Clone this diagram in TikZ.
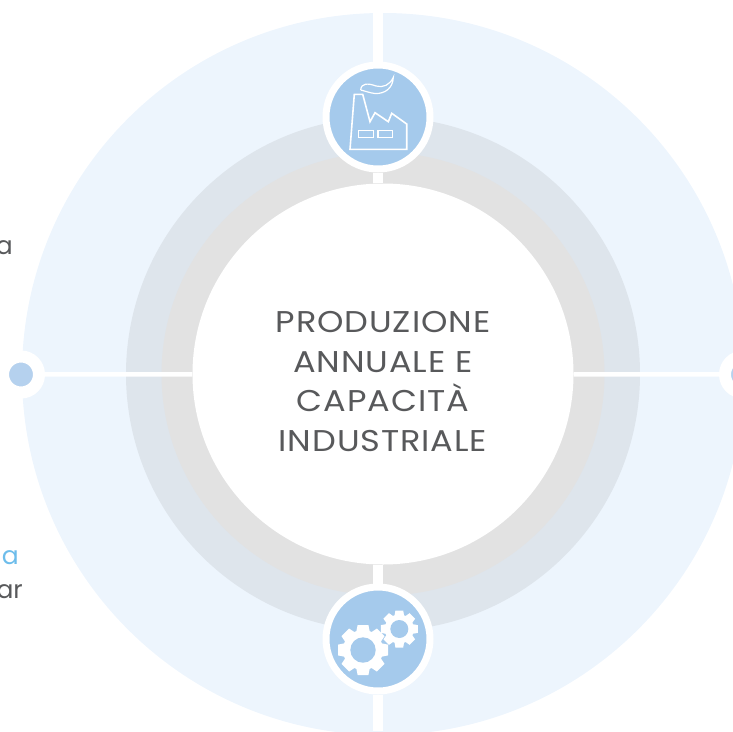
\documentclass[tikz,border=0pt]{standalone}
\usepackage{fontspec}
\setmainfont{Poppins}
\newfontfamily\widefont[FakeStretch=1.12, LetterSpace=3]{Poppins}
\definecolor{ringouter}{HTML}{EDF5FD}
\definecolor{ringmid}{HTML}{DEE5EC}
\definecolor{ringinner}{HTML}{E2E2E2}
\definecolor{iconblue}{HTML}{A5CAEC}
\definecolor{dotblue}{HTML}{B5D1EE}
\definecolor{textgrey}{HTML}{58595B}
\definecolor{textcyan}{HTML}{6DBDEB}
\newcommand{\gearicon}[5]{% x, y, root radius, outer radius, hole radius
  \fill[white] (#1,#2) circle (#3pt);
  \foreach \a in {0,45,...,315}{
    \fill[white, shift={(#1,#2)}, rotate=\a]
      (#3-2,-0.34*#3) -- (#4,-0.27*#3) -- (#4,0.27*#3) -- (#3-2,0.34*#3) -- cycle;
  }
  \fill[iconblue] (#1,#2) circle (#5pt);
}
\begin{document}
\begin{tikzpicture}[x=1pt, y=-1pt]
      \tikzstyle{every node} = [inner sep = 0pt];
      \tikzstyle{iconring} = [circle, fill=iconblue, draw=white, line width=7pt, minimum size=104pt];
      \tikzstyle{sidering} = [circle, fill=dotblue, draw=white, line width=12pt, minimum size=36pt];
      \tikzstyle{spoke} = [white, line width=4.5pt];
      \tikzstyle{gap} = [white, line width=10.5pt];
      \tikzstyle{sidetext} = [anchor=base east, font=\fontsize{25}{30}\selectfont];
      \clip (0,0) rectangle (733,731);
      \fill[ringouter] (383,374) circle (361pt);
      \fill[ringmid] (383,374) circle (257pt);
      \fill[ringinner] (383,374) circle (221.5pt);

      \node (hub) [circle, fill=white, minimum size=381pt] at (383,374) {};
      \node (hubtext) [align=center, text=textgrey, font=\widefont\fontsize{30}{39.7}\selectfont] at (383,381.5)
        {PRODUZIONE\\ANNUALE E\\CAPACITÀ\\INDUSTRIALE};

      \coordinate (topend) at (378,0);
      \coordinate (bottomend) at (378,731);
      \node (west) [sidering] at (21,374.5) {};
      \node (east) [sidering] at (743,374.5) {};
      \node (factory) [iconring] at (378,117) {};
      \node (gears) [iconring] at (378,639) {};

      \path (hub) edge[spoke] (west);
      \path (hub) edge[spoke] (east);
      \path (factory.north) edge[gap] (topend);
      \path (factory.south) edge[gap] (factory.south |- hub.north);
      \path (gears.north) edge[gap] (gears.north |- hub.south);
      \path (gears.south) edge[gap] (bottomend);

      % factory icon
      \draw[white, line width=1.6pt, line join=miter]
        (350,149.3) -- (354.3,94.3) -- (362.7,94.3) -- (370,121.7) -- (375,112.7)
        -- (388.3,121.7) -- (391.7,113.3) -- (406.7,124) -- (406.7,149.3) -- cycle;
      \draw[white, line width=1.4pt] (358.7,130.3) rectangle (373.3,137.7);
      \draw[white, line width=1.4pt] (378,130.3) rectangle (392.7,137.7);
      \draw[white, line width=1.2pt]
        (360.7,90) .. controls (361,83) and (368,83) .. (376,86)
        .. controls (383,88) and (390,85) .. (393.3,77.3)
        .. controls (393,88) and (385,94) .. (375,93.5)
        .. controls (370,93) and (365,91) .. (360.7,90);

      % gear icons
      \gearicon{363}{650}{20}{25}{12.7}
      \gearicon{399.3}{629}{14.5}{18.5}{9}

      \node (sidea) [sidetext, text=textgrey] at (13,254.5) {a};
      \node (sideua) [sidetext, text=textcyan] at (19,564.5) {ua};
      \node (sidear) [sidetext, text=textgrey] at (23,598.5) {ar};
    \end{tikzpicture}
\end{document}
